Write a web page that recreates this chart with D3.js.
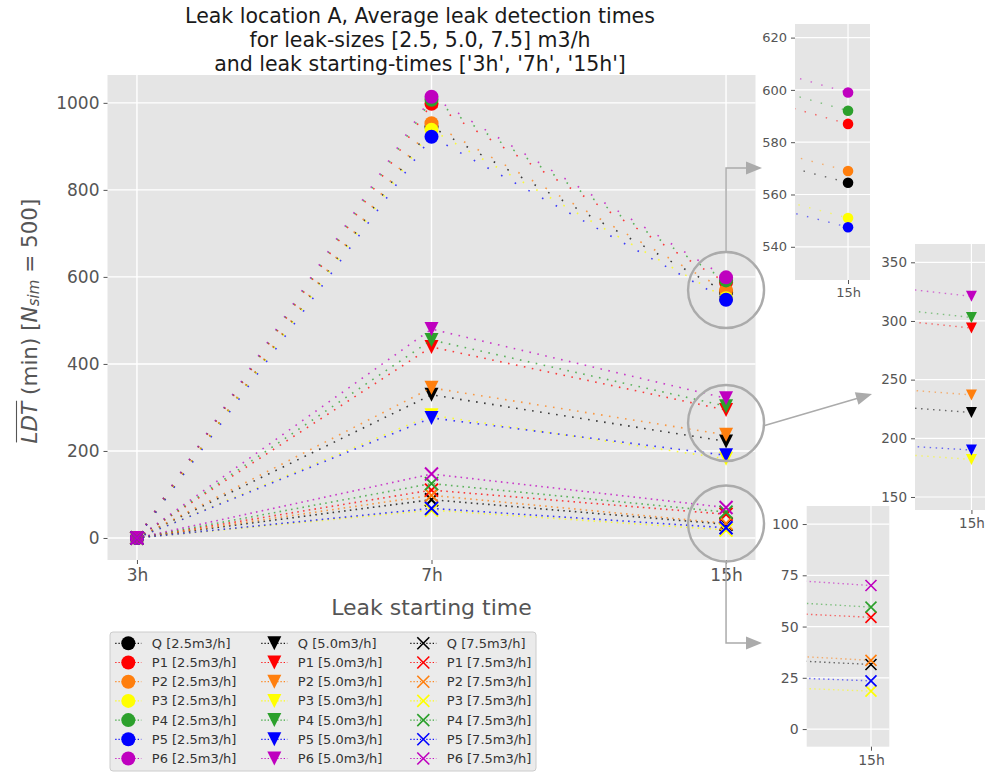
<!DOCTYPE html>
<html>
<head>
<meta charset="utf-8">
<script src="https://cdn.jsdelivr.net/npm/d3@7"></script>
<style>
  body { margin: 0; background: #ffffff; }
  svg { display: block; }
  text { font-family: "DejaVu Sans", sans-serif; }
</style>
</head>
<body>
<svg id="chart" width="985" height="773"></svg>
<script>
// ---- data -------------------------------------------------------------
const startTimes = ['3h', '7h', '15h'];
const sensors = ['Q', 'P1', 'P2', 'P3', 'P4', 'P5', 'P6'];
const leakSizes = ['2.5', '5.0', '7.5'];

// mean leak detection time (min) per sensor, at start times 3h / 7h / 15h
const ldtSize25 = [
  [0, 945, 564.5],
  [0, 998, 587],
  [0, 953, 569],
  [0, 938, 551],
  [0, 1007, 592],
  [0, 922, 547.5],
  [0, 1014, 599]
];
const ldtSize50 = [
  [0, 329, 222],
  [0, 439, 294],
  [0, 345, 237],
  [0, 282, 182],
  [0, 455, 303],
  [0, 276, 190],
  [0, 480, 321]
];
const ldtSize75 = [
  [0, 88, 31.5],
  [0, 110, 54.5],
  [0, 98, 33.5],
  [0, 64, 18.5],
  [0, 125, 59.5],
  [0, 68, 23.5],
  [0, 147, 70]
];

const mainYTicks = [0, 200, 400, 600, 800, 1000];
const zoomTopTicks = [540, 560, 580, 600, 620];
const zoomMidTicks = [150, 200, 250, 300, 350];
const zoomLowTicks = [0, 25, 50, 75, 100];

// ---- styles -----------------------------------------------------------
const sensorColors = ['#000000', '#ff0000', '#ff7f0e', '#ffff00', '#2ca02c', '#0000ff', '#bf00bf'];
const markerKinds = ['circle', 'triDown', 'cross'];
const mainDash = ['1.6,14', '1.6,6.5', '1.6,4.2'];

const ldtBySize = [ldtSize25, ldtSize50, ldtSize75];
const series = [];
leakSizes.forEach((size, si) => {
  sensors.forEach((name, pi) => {
    series.push({
      label: `${name} [${size}m3/h]`,
      sizeIdx: si,
      color: sensorColors[pi],
      kind: markerKinds[si],
      values: ldtBySize[si][pi]
    });
  });
});

const svg = d3.select('#chart');
const TICK_GREY = '#555555';

function drawMarker(g, kind, cx, cy, s, color, crossWidth) {
  if (kind === 'circle') {
    g.append('circle').attr('cx', cx).attr('cy', cy).attr('r', s).attr('fill', color);
  } else if (kind === 'triDown') {
    g.append('path')
      .attr('d', `M${cx - s},${cy - s}L${cx + s},${cy - s}L${cx},${cy + s}Z`)
      .attr('fill', color);
  } else {
    g.append('path')
      .attr('d', `M${cx - s},${cy - s}L${cx + s},${cy + s}M${cx - s},${cy + s}L${cx + s},${cy - s}`)
      .attr('stroke', color).attr('stroke-width', crossWidth).attr('fill', 'none');
  }
}

// ---- main panel ---------------------------------------------------------
const main = { left: 107.5, right: 755.5, top: 75, bottom: 560 };
const x = d3.scaleLinear().domain([-0.1, 2.1]).range([main.left, main.right]);
const y = d3.scaleLinear().domain([-50.6, 1064]).range([main.bottom, main.top]);

svg.append('defs').append('clipPath').attr('id', 'clipMain')
  .append('rect').attr('x', main.left).attr('y', main.top)
  .attr('width', main.right - main.left).attr('height', main.bottom - main.top);

svg.append('rect')
  .attr('x', main.left).attr('y', main.top)
  .attr('width', main.right - main.left).attr('height', main.bottom - main.top)
  .attr('fill', '#e5e5e5');

const grid = svg.append('g').attr('stroke', '#ffffff').attr('stroke-width', 1.4);
mainYTicks.forEach(t => grid.append('line')
  .attr('x1', main.left).attr('x2', main.right).attr('y1', y(t)).attr('y2', y(t)));
startTimes.forEach((t, i) => grid.append('line')
  .attr('x1', x(i)).attr('x2', x(i)).attr('y1', main.top).attr('y2', main.bottom));

const yAxis = svg.append('g').attr('transform', `translate(${main.left},0)`)
  .call(d3.axisLeft(y).tickValues(mainYTicks).tickFormat(d3.format('d'))
    .tickSize(4).tickPadding(4));
const xAxis = svg.append('g').attr('transform', `translate(0,${main.bottom})`)
  .call(d3.axisBottom(x).tickValues(d3.range(startTimes.length))
    .tickFormat(i => startTimes[i]).tickSize(4).tickPadding(5));
[yAxis, xAxis].forEach(ax => {
  ax.select('.domain').remove();
  ax.selectAll('line').attr('stroke', TICK_GREY);
  ax.selectAll('text').attr('fill', TICK_GREY).style('font-size', '17px')
    .style('font-family', '"DejaVu Sans", sans-serif');
});

const plotLayer = svg.append('g').attr('clip-path', 'url(#clipMain)');
series.forEach(s => {
  const g = plotLayer.append('g');
  g.append('path')
    .datum(s.values)
    .attr('d', d3.line().x((d, i) => x(i)).y(d => y(d)))
    .attr('fill', 'none').attr('stroke', s.color).attr('stroke-width', 1.6)
    .attr('stroke-dasharray', mainDash[s.sizeIdx]).attr('opacity', 0.75);
  s.values.forEach((v, i) => drawMarker(g, s.kind, x(i), y(v), s.kind === 'cross' ? 6.5 : 7, s.color, 2));
});

// three-line title
const titleLines = [
  'Leak location A, Average leak detection times',
  'for leak-sizes [2.5, 5.0, 7.5] m3/h',
  "and leak starting-times ['3h', '7h', '15h']"
];
titleLines.forEach((t, i) => svg.append('text')
  .attr('x', 420).attr('y', 16 + i * 24)
  .attr('text-anchor', 'middle').attr('dominant-baseline', 'central')
  .attr('fill', '#1a1a1a').style('font-size', '20.5px').text(t));

svg.append('text')
  .attr('x', (main.left + main.right) / 2).attr('y', 607)
  .attr('text-anchor', 'middle').attr('dominant-baseline', 'central')
  .attr('fill', TICK_GREY).style('font-size', '22px').text('Leak starting time');

const yLabG = svg.append('g').attr('transform', 'translate(29,321) rotate(-90)');
const yLab = yLabG.append('text')
  .attr('x', 0).attr('y', 0).attr('text-anchor', 'middle').attr('dominant-baseline', 'central')
  .attr('fill', TICK_GREY).style('font-size', '21.5px');
yLab.append('tspan').style('font-style', 'italic').text('LDT');
yLab.append('tspan').text(' (min) [');
yLab.append('tspan').style('font-style', 'italic').text('N');
yLab.append('tspan').style('font-style', 'italic').style('font-size', '15px').attr('dy', 4.5).text('sim');
yLab.append('tspan').attr('dy', -4.5).text(' = 500]');
// overline above LDT
const ovStart = yLab.node().getStartPositionOfChar(0).x;
const ovEnd = yLab.node().getEndPositionOfChar(2).x;
yLabG.append('line').attr('x1', ovStart + 1).attr('x2', ovEnd + 1)
  .attr('y1', -12.5).attr('y2', -12.5).attr('stroke', TICK_GREY).attr('stroke-width', 1.1);

// ---- highlight circles and arrows ----------------------------------------
const ANNOT = '#ababab';
const ringCentres = [290, 423, 523.5];
const annot = svg.append('g');
ringCentres.forEach(cy => annot.append('circle')
  .attr('cx', x(2)).attr('cy', cy).attr('r', 38)
  .attr('fill', 'none').attr('stroke', ANNOT).attr('stroke-width', 2.4));

function arrowHead(tipX, tipY, angle) {
  const len = 16, half = 6.5;
  const pts = [[0, 0], [-len, -half], [-len, half]].map(([px, py]) => [
    tipX + px * Math.cos(angle) - py * Math.sin(angle),
    tipY + px * Math.sin(angle) + py * Math.cos(angle)
  ]);
  annot.append('path').attr('d', 'M' + pts.join('L') + 'Z').attr('fill', ANNOT);
}
annot.append('path').attr('d', `M${x(2)},${290 - 38}V168H748`)
  .attr('fill', 'none').attr('stroke', ANNOT).attr('stroke-width', 1.5);
arrowHead(762, 168, 0);
const a2 = Math.atan2(394 - 426, 872 - 763);
annot.append('line').attr('x1', 763).attr('y1', 426)
  .attr('x2', 872 - 14 * Math.cos(a2)).attr('y2', 394 - 14 * Math.sin(a2))
  .attr('stroke', ANNOT).attr('stroke-width', 1.5);
arrowHead(872, 394, a2);
annot.append('path').attr('d', `M${x(2)},${523.5 + 38}V643H748`)
  .attr('fill', 'none').attr('stroke', ANNOT).attr('stroke-width', 1.5);
arrowHead(762, 643, 0);

// ---- legend -------------------------------------------------------------
const legend = svg.append('g');
legend.append('rect').attr('x', 110).attr('y', 632).attr('width', 426).attr('height', 139)
  .attr('rx', 3).attr('fill', '#ebebeb').attr('stroke', '#cccccc').attr('stroke-width', 1);
const legMarkerX = [128.3, 274.3, 423.3];
series.forEach((s, k) => {
  const col = s.sizeIdx, row = k % sensors.length;
  const cy = 643.3 + row * 19.2;
  const mx = legMarkerX[col];
  const g = legend.append('g');
  g.append('line').attr('x1', mx - 13).attr('x2', mx + 13).attr('y1', cy).attr('y2', cy)
    .attr('stroke', s.color).attr('stroke-width', 1.2).attr('stroke-dasharray', '1.2,2');
  drawMarker(g, s.kind, mx, cy, s.kind === 'cross' ? 6 : 7, s.color, 1.6);
  g.append('text').attr('x', mx + 23.5).attr('y', cy).attr('dominant-baseline', 'central')
    .attr('fill', '#333333').style('font-size', '13px').text(s.label);
});

// ---- zoomed panels at 15h ------------------------------------------------
function drawZoom(opt) {
  const zx = d3.scaleLinear().domain(opt.xDomain).range([opt.left, opt.right]);
  const zy = d3.scaleLinear().domain(opt.yDomain).range([opt.bottom, opt.top]);
  const g = svg.append('g');
  const clipId = 'clip' + opt.id;
  g.append('clipPath').attr('id', clipId).append('rect')
    .attr('x', opt.left).attr('y', opt.top)
    .attr('width', opt.right - opt.left).attr('height', opt.bottom - opt.top);
  g.append('rect').attr('x', opt.left).attr('y', opt.top)
    .attr('width', opt.right - opt.left).attr('height', opt.bottom - opt.top)
    .attr('fill', '#e5e5e5');
  const gg = g.append('g').attr('stroke', '#ffffff').attr('stroke-width', 1.2);
  opt.ticks.forEach(t => gg.append('line')
    .attr('x1', opt.left).attr('x2', opt.right).attr('y1', zy(t)).attr('y2', zy(t)));
  gg.append('line').attr('x1', zx(2)).attr('x2', zx(2)).attr('y1', opt.top).attr('y2', opt.bottom);

  const ya = g.append('g').attr('transform', `translate(${opt.left},0)`)
    .call(d3.axisLeft(zy).tickValues(opt.ticks).tickSize(4).tickPadding(4));
  const xa = g.append('g').attr('transform', `translate(0,${opt.bottom})`)
    .call(d3.axisBottom(zx).tickValues([2]).tickFormat(i => startTimes[i]).tickSize(4).tickPadding(4));
  [ya, xa].forEach(ax => {
    ax.select('.domain').remove();
    ax.selectAll('line').attr('stroke', TICK_GREY);
    ax.selectAll('text').attr('fill', TICK_GREY).style('font-size', opt.fontSize + 'px')
      .style('font-family', '"DejaVu Sans", sans-serif');
  });

  const layer = g.append('g').attr('clip-path', `url(#${clipId})`);
  series.filter(s => s.sizeIdx === opt.sizeIdx).forEach(s => {
    const sg = layer.append('g');
    sg.append('path').datum(s.values)
      .attr('d', d3.line().x((d, i) => zx(i)).y(d => zy(d)))
      .attr('fill', 'none').attr('stroke', s.color).attr('stroke-width', 1.4)
      .attr('stroke-dasharray', opt.dash).attr('opacity', 0.55);
    drawMarker(sg, s.kind, zx(2), zy(s.values[2]), opt.markerSize, s.color, 1.6);
  });
}

drawZoom({ id: 'Top', left: 795, right: 870, top: 24, bottom: 280,
  xDomain: [1.986, 2.0058], yDomain: [527.3, 625.2], ticks: zoomTopTicks,
  sizeIdx: 0, markerSize: 5.3, dash: '1.5,9.5', fontSize: 13 });
drawZoom({ id: 'Mid', left: 915, right: 995, top: 244, bottom: 510,
  xDomain: [1.966, 2.0142], yDomain: [138.9, 365.6], ticks: zoomMidTicks,
  sizeIdx: 1, markerSize: 5.5, dash: '1.5,4.5', fontSize: 13.5 });
drawZoom({ id: 'Low', left: 806.7, right: 889.3, top: 506, bottom: 746.7,
  xDomain: [1.973, 2.0077], yDomain: [-8.6, 108.8], ticks: zoomLowTicks,
  sizeIdx: 2, markerSize: 5.5, dash: '1.5,3.2', fontSize: 14 });
</script>
</body>
</html>
